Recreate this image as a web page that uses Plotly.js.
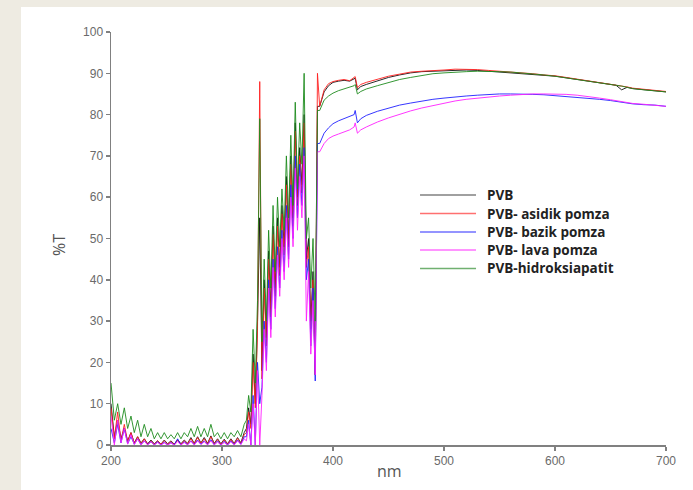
<!DOCTYPE html>
<html>
<head>
<meta charset="utf-8">
<script src="https://cdn.plot.ly/plotly-3.0.1.min.js"></script>
<style>
  html, body { margin: 0; padding: 0; background: #eeebe2; }
  #panel { position: absolute; left: 21px; top: 7px; width: 672px; height: 483px; background: #ffffff; }
  #chart { position: absolute; left: 0; top: 0; width: 693px; height: 490px; }
</style>
</head>
<body>
<div id="panel"></div>
<div id="chart"></div>
<script>
// wavelength grids (nm)
const wlUV1 = [200,203,206,209,212,215,218,221,224,227,230,233,236,239,242,245,248,251,254,257,260,263,266,269,272,275,278,281,284,287,290,293,296,299,302,305,308,311,314,317,320];
const wlUV2 = [322,324,326,328,330,332,334,336,338,340,342,344,346,348,350,352,354,356,358,360,362,364,366,368,370,372,374,376,378,380,382,384,386];
const wlVis = [388,392,396,400,405,410,415,419,420,422,425,430,440,450,460,470,480,490,500,510,520,530,540,550,560,570,580,590,600,610,620,630,640,650,655,660,665,670,680,690,700];

const seriesNames = ["PVB", "PVB- asidik pomza", "PVB- bazik pomza", "PVB- lava pomza", "PVB-hidroksiapatit"];

// %T values, PVB (black)
const pvbUV1 = [10,2,6,1.5,4,1,3,0.5,2,0.5,1.5,0.3,1.2,0.3,1,0.2,1.2,0.3,1,0.2,1.3,0.3,1.2,0.4,1.8,0.4,2,0.5,1.8,0.4,2.2,0.4,1.5,0.3,1.4,0.3,1.5,0.4,1.8,0.5,3];
const pvbUV2 = [4,9,5,22,10,30,55,18,40,26,47,33,53,38,55,43,58,48,65,50,70,55,78,60,72,63,80,45,50,30,42,17,82];
const pvbVis = [82,85.5,87,87.8,88.1,88.3,88.1,88.6,88.8,86,86.8,87.3,88.2,89,89.6,90.1,90.4,90.5,90.6,90.8,90.8,90.7,90.5,90.3,90.2,90,89.8,89.5,89.3,88.9,88.5,88.1,87.7,87.3,87.1,86,86.6,86.3,86,85.8,85.5];

// PVB- asidik pomza (red)
const asidikUV1 = [9,1.5,8,1,5,0.8,3,0.4,2,0.3,1.5,0.2,1,0.2,1,0.2,1,0.2,0.8,0.1,1.2,0.2,1,0.3,1.5,0.3,1.8,0.4,1.5,0.3,2,0.3,1.3,0.2,1.2,0.2,1.3,0.3,1.6,0.4,2.5];
const asidikUV2 = [3,8,4,20,9,28,88,16,38,24,45,31,51,36,53,41,56,46,63,48,68,53,76,58,70,61,78,43,48,28,40,17,90];
const asidikVis = [82,86,87.5,88,88.3,88.5,88.2,89,89.2,86.5,87.3,87.8,88.5,89.3,89.8,90.3,90.5,90.6,90.8,91,91,90.9,90.7,90.5,90.4,90.1,89.9,89.6,89.4,89,88.6,88.2,87.8,87.4,87.2,87,86.7,86.4,86.1,85.9,85.6];

// PVB- bazik pomza (blue)
const bazikUV1 = [4,0.5,5,0.5,4,0.3,2,0.2,1.5,0.1,1,0.1,0.8,0,0.8,0,0.7,0,0.6,0,1.5,0,0.8,0.1,1,0.1,1.2,0.2,1,0.1,1.3,0.1,1,0,0.9,0,1,0.1,1.2,0.2,2];
const bazikUV2 = [2,6,0,12,0,20,10,14,30,20,40,28,45,33,48,38,52,42,58,45,63,50,70,55,68,58,72,40,45,24,38,15.5,73];
const bazikVis = [73,75.5,76.8,77.8,78.5,79,79.5,80,81,78,79,79.8,80.8,81.6,82.3,82.8,83.3,83.7,84,84.3,84.5,84.7,84.9,85,85,85,84.9,84.8,84.6,84.4,84.2,83.9,83.7,83.4,83.2,83,82.8,82.6,82.4,82.3,82];

// PVB- lava pomza (magenta)
const lavaUV1 = [7,0,6,0.5,4,0.2,2.5,0.1,1.5,0,1,0,0.8,0,0.6,0,0.5,0,0.5,0,0.8,0,0.6,0,0.9,0,1,0.1,0.8,0,1,0,0.7,0,0.6,0,0.8,0,1,0.1,1.5];
const lavaUV2 = [1,5,0,10,0,18,0,12,28,18,38,26,43,31,46,36,50,40,55,43,60,48,67,52,65,55,70,30,42,22,35,17,71];
const lavaVis = [71,73,74.2,74.8,75.3,75.8,76.3,77,78,75.5,76.3,77,78.2,79.2,80.1,80.9,81.6,82.2,82.8,83.3,83.7,84,84.3,84.5,84.7,84.9,85,85,85,84.9,84.7,84.4,84,83.6,83.4,83.1,82.9,82.7,82.5,82.3,82];

// PVB-hidroksiapatit (green)
const hidroksiUV1 = [15,6,10,5,9,4,7,3,6,2,5,2,4,1.5,3,1.5,3,1.5,2.5,1.5,3,1.5,3,2,4,2,4.5,2,4,2,5,2,3,1.5,3,1.5,3,2,3.5,2,5];
const hidroksiUV2 = [6,12,8,28,15,35,79,25,45,30,52,38,58,42,60,48,62,52,70,55,75,58,83,62,78,68,90,50,55,38,50,30,81];
const hidroksiVis = [81,83.5,84.5,85.2,85.8,86.2,86.5,87,87.3,85,85.6,86.2,87,87.8,88.5,89,89.5,89.9,90.1,90.3,90.4,90.5,90.5,90.4,90.3,90.1,89.9,89.6,89.3,88.9,88.6,88.2,87.8,87.4,87.2,86.9,86.6,86.3,86,85.8,85.5];

const xTickVals = [200,300,400,500,600,700];
const yTickVals = [0,10,20,30,40,50,60,70,80,90,100];

const wl = wlUV1.concat(wlUV2, wlVis);
const seriesData = [
  pvbUV1.concat(pvbUV2, pvbVis),
  asidikUV1.concat(asidikUV2, asidikVis),
  bazikUV1.concat(bazikUV2, bazikVis),
  lavaUV1.concat(lavaUV2, lavaVis),
  hidroksiUV1.concat(hidroksiUV2, hidroksiVis)
];
const colors = ["#111111", "#ff2020", "#2020ff", "#ff20ff", "#1e8c1e"];
const legendColors = ["#808080", "#ff7070", "#7070ff", "#ff70ff", "#70b070"];

const traces = seriesData.map((y, i) => ({
  x: wl, y: y, name: seriesNames[i], type: "scatter", mode: "lines",
  line: {color: colors[i], width: 1},
  opacity: 0.9,
  showlegend: false
}));

// hand-placed legend (paper coordinates)
const legX0 = 0.5568, legX1 = 0.6577, legTextX = 0.674;
const legY = [0.6053, 0.5605, 0.5157, 0.4722, 0.4274];
const legendShapes = seriesNames.map((n, i) => ({
  type: "line", xref: "paper", yref: "paper",
  x0: legX0, x1: legX1, y0: legY[i], y1: legY[i],
  line: {color: legendColors[i], width: 1.5}
}));
const legendTexts = seriesNames.map((n, i) => ({
  text: n, xref: "paper", yref: "paper", x: legTextX, y: legY[i],
  xanchor: "left", yanchor: "middle", showarrow: false,
  font: {family: "Open Sans, sans-serif", size: 13.5, color: "#222222", weight: "bold"}
}));

const layout = {
  width: 693, height: 490,
  paper_bgcolor: "rgba(0,0,0,0)",
  plot_bgcolor: "rgba(0,0,0,0)",
  margin: {l: 111, r: 27, t: 32, b: 45},
  font: {family: "Liberation Sans, Arial, sans-serif", color: "#666666"},
  showlegend: false,
  xaxis: {
    range: [200, 700], tickvals: xTickVals, ticktext: xTickVals.map(String),
    showline: true, linecolor: "#808080", linewidth: 1.5,
    ticks: "outside", ticklen: 4, tickcolor: "#808080", tickwidth: 1.5,
    showgrid: false, zeroline: false,
    tickfont: {size: 12, color: "#6a6a6a"}
  },
  yaxis: {
    range: [0, 100], tickvals: yTickVals, ticktext: yTickVals.map(String),
    showline: true, linecolor: "#808080", linewidth: 1.5,
    ticks: "outside", ticklen: 4, tickcolor: "#808080", tickwidth: 1.5,
    showgrid: false, zeroline: false,
    tickfont: {size: 12, color: "#6a6a6a"}
  },
  shapes: legendShapes,
  annotations: [
    {text: "nm", xref: "paper", yref: "paper", x: 0.502, y: -0.063, xanchor: "center", yanchor: "middle",
     showarrow: false, font: {family: "Open Sans, sans-serif", size: 16, color: "#555555"}},
    {text: "%T", xref: "paper", yref: "paper", x: -0.095, y: 0.485, xanchor: "center", yanchor: "middle",
     textangle: -90, showarrow: false, font: {family: "Open Sans, sans-serif", size: 16, color: "#555555"}}
  ].concat(legendTexts)
};

Plotly.newPlot("chart", traces, layout, {displayModeBar: false, staticPlot: true});
</script>
</body>
</html>
